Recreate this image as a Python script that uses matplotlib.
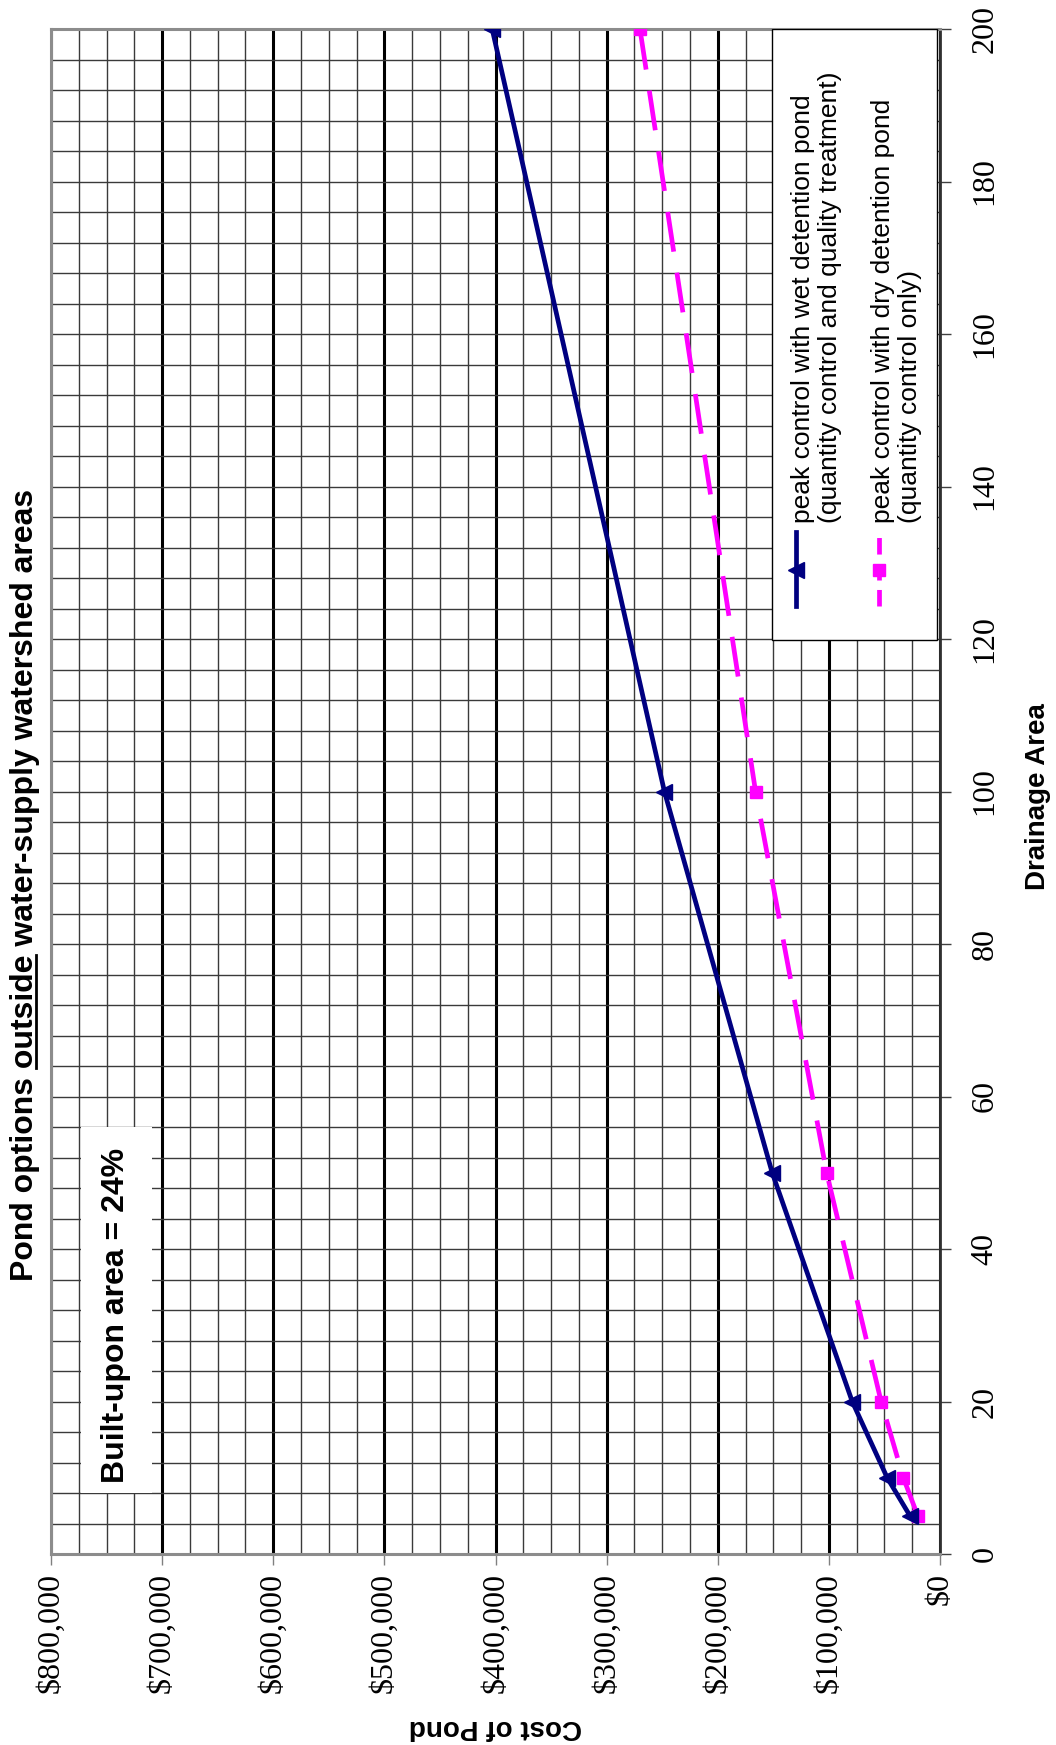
import numpy as np
import matplotlib
matplotlib.use("Agg")
import matplotlib.pyplot as plt
from matplotlib.ticker import MultipleLocator, FixedLocator
from matplotlib.patches import Rectangle
from matplotlib.lines import Line2D
from matplotlib.font_manager import FontProperties

SERIF = 'Liberation Serif'
SANS = 'Liberation Sans'
plt.rcParams['font.family'] = SANS

# drainage area and pond cost
area = [5, 10, 20, 50, 100, 200]
wet_cost = [27000, 47500, 79000, 151000, 248000, 403000]
dry_cost = [20000, 33000, 53000, 102000, 166000, 270000]

cost_ticks = [0, 100000, 200000, 300000, 400000, 500000, 600000, 700000, 800000]
cost_labels = ['$0', '$100,000', '$200,000', '$300,000', '$400,000',
               '$500,000', '$600,000', '$700,000', '$800,000']
area_ticks = [0, 20, 40, 60, 80, 100, 120, 140, 160, 180, 200]

wet_label = 'peak control with wet detention pond\n(quantity control and quality treatment)'
dry_label = 'peak control with dry detention pond\n(quantity control only)'
title_pre = 'Pond options '
title_word = 'outside'
title_post = ' water-supply watershed areas'

W, H = 1056, 1745
fig = plt.figure(figsize=(W / 100, H / 100), dpi=100)
fig.patch.set_facecolor('white')

# plot box in pixels: x 51..940, y 29..1554 (from top)
L, R, T, B = 51, 940, 29, 1554
ax = fig.add_axes([L / W, 1 - B / H, (R - L) / W, (B - T) / H])

ax.set_xlim(800000, 0)
ax.set_ylim(0, 200)

ax.xaxis.set_major_locator(FixedLocator(cost_ticks))
ax.xaxis.set_minor_locator(MultipleLocator(25000))
ax.yaxis.set_major_locator(FixedLocator(area_ticks))
ax.yaxis.set_minor_locator(MultipleLocator(4))
ax.yaxis.tick_right()
ax.set_xticklabels(cost_labels, family=SERIF, fontsize=23, rotation=90)
ax.set_yticklabels([str(t) for t in area_ticks], family=SERIF, fontsize=23,
                   rotation=90, va='center')

ax.tick_params(axis='x', which='major', direction='out', length=8, width=1,
               color='#808080', pad=6)
ax.tick_params(axis='y', which='major', direction='out', length=8, width=1,
               color='#404040', pad=14)
ax.tick_params(which='minor', length=0)

ax.grid(which='minor', axis='both', color='#3a3a3a', lw=1.0)
ax.grid(which='major', axis='y', color='#3a3a3a', lw=1.0)
ax.grid(which='major', axis='x', color='black', lw=2.2)
ax.set_axisbelow(True)

for side in ['left', 'top', 'bottom']:
    ax.spines[side].set_color('#8c8c8c')
    ax.spines[side].set_linewidth(2.2)
ax.spines['right'].set_color('#303030')
ax.spines['right'].set_linewidth(2.0)

ax.plot(wet_cost, area, color='#000080', lw=3.4, marker='<', ms=12,
        mfc='#000080', mec='#000080', zorder=4)
ax.plot(dry_cost, area, color='#ff00ff', lw=3.4, dashes=(8.5, 4.5),
        marker='s', ms=8, mfc='#ff00ff', mec='#ff00ff', zorder=3)

# white box with the built-upon note
ax.add_patch(Rectangle((0.0337, 0.04), 0.08, 0.24, transform=ax.transAxes,
                       facecolor='white', edgecolor='none', zorder=2))
ax.text(0.0731, 0.1567, 'Built-upon area = 24%', transform=ax.transAxes,
        rotation=90, ha='center', va='center', fontsize=23,
        fontweight='bold', family=SANS, zorder=5)

# legend, drawn by hand since the whole chart is turned on its side
ax.add_patch(Rectangle((0.811, 0.5993), 0.1856, 0.4007, transform=ax.transAxes,
                       facecolor='white', edgecolor='black', lw=1.0, zorder=5))
ax.add_line(Line2D([0.838, 0.838], [0.6216, 0.670], transform=ax.transAxes,
                   color='#000080', lw=3.4, zorder=6))
ax.add_line(Line2D([0.838], [0.645], transform=ax.transAxes, marker='<', ms=12,
                   color='#000080', zorder=6))
ax.add_line(Line2D([0.9314, 0.9314], [0.6216, 0.670], transform=ax.transAxes,
                   color='#ff00ff', lw=3.4, dashes=(3.5, 2.0), zorder=6))
ax.add_line(Line2D([0.9314], [0.645], transform=ax.transAxes, marker='s', ms=8,
                   color='#ff00ff', zorder=6))
ax.text(0.861, 0.676, wet_label, transform=ax.transAxes, rotation=90,
        ha='center', va='bottom', multialignment='left', fontsize=19,
        family=SANS, zorder=6)
ax.text(0.951, 0.676, dry_label, transform=ax.transAxes, rotation=90,
        ha='center', va='bottom', multialignment='left', fontsize=19,
        family=SANS, zorder=6)

# axis titles
fig.text(1038 / W, 1 - 797 / H, 'Drainage Area', rotation=90, ha='center',
         va='center', fontsize=20, fontweight='bold', family=SANS)
fig.text(495 / W, 1 - 1727 / H, 'Cost of Pond', rotation=180, ha='center',
         va='center', fontsize=20, fontweight='bold', family=SANS)

# chart title with the word "outside" underlined
title = title_pre + title_word + title_post
fp = FontProperties(family=SANS, weight='bold', size=23)
rend = fig.canvas.get_renderer()
w_all = rend.get_text_width_height_descent(title, fp, ismath=False)[0]
w_upto = rend.get_text_width_height_descent(title_pre + title_word, fp, ismath=False)[0]
w_word = rend.get_text_width_height_descent(title_word, fp, ismath=False)[0]
base_x = 33
mid_y = H - 885
fig.text(base_x / W, mid_y / H, title, rotation=90, rotation_mode='anchor',
         ha='center', va='baseline', fontproperties=fp)
y0 = mid_y - w_all / 2 + (w_upto - w_word)
y1 = mid_y - w_all / 2 + w_upto
fig.add_artist(Line2D([(base_x + 3) / W] * 2, [y0 / H, y1 / H],
                      transform=fig.transFigure, color='black', lw=2.0))

fig.savefig('out.png', dpi=100, facecolor='white')
